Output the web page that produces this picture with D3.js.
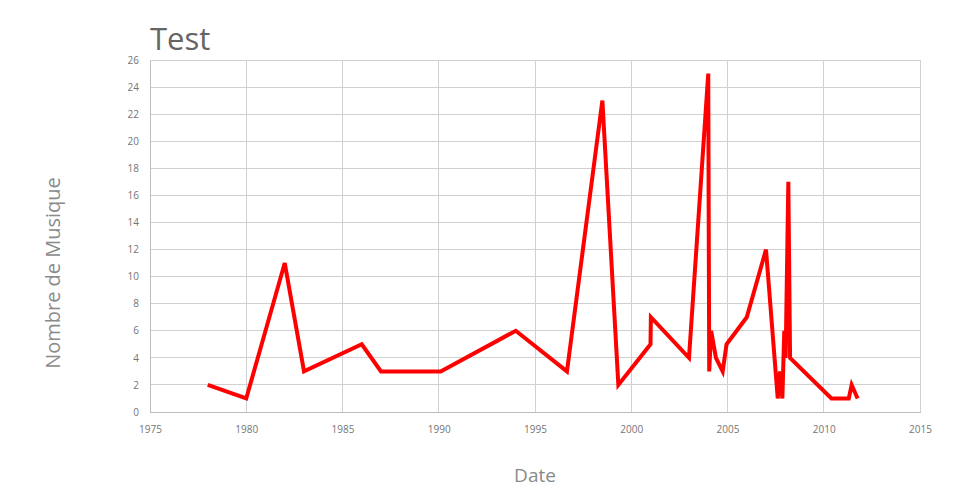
<!DOCTYPE html>
<html>
<head>
<meta charset="utf-8">
<script src="https://cdn.jsdelivr.net/npm/d3@7"></script>
<style>
  body { margin: 0; background: #fff; }
  text { font-family: "Open Sans", sans-serif; }
</style>
</head>
<body>
<svg id="chart" width="960" height="500"></svg>
<script>
// Data (decimal years, number of songs)
const years = [1978, 1980, 1982, 1983, 1986, 1987, 1990.1, 1994, 1996.66, 1998.5, 1999.33, 2001, 2001.02, 2003, 2004.0, 2004.05, 2004.15, 2004.4, 2004.75, 2004.95, 2006, 2007, 2007.61, 2007.73, 2007.85, 2007.95, 2008.02, 2008.16, 2008.25, 2010.4, 2011.3, 2011.45, 2011.76];
const values = [2, 1, 11, 3, 5, 3, 3, 6, 3, 23, 2, 5, 7, 4, 25, 3, 6, 4, 3, 5, 7, 12, 1, 3, 1, 6, 4, 17, 4, 1, 1, 2, 1];
const xTicks = [1975, 1980, 1985, 1990, 1995, 2000, 2005, 2010, 2015];
const yTicks = [0, 2, 4, 6, 8, 10, 12, 14, 16, 18, 20, 22, 24, 26];
const title = "Test";
const xLabel = "Date";
const yLabel = "Nombre de Musique";

const svg = d3.select("#chart");
const margin = {left: 150, right: 40, top: 60, bottom: 88};
const W = 960, H = 500;
const x = d3.scaleLinear().domain([1975, 2015]).range([margin.left, W - margin.right]);
const y = d3.scaleLinear().domain([0, 26]).range([H - margin.bottom, margin.top]);

// grid
svg.append("g").selectAll("line").data(yTicks).join("line")
  .attr("x1", x(1975)).attr("x2", x(2015))
  .attr("y1", d => y(d)).attr("y2", d => y(d))
  .attr("stroke", "#d0d0d0").attr("stroke-width", 1).attr("shape-rendering", "crispEdges");
svg.append("g").selectAll("line").data(xTicks).join("line")
  .attr("x1", d => x(d)).attr("x2", d => x(d))
  .attr("y1", y(0)).attr("y2", y(26))
  .attr("stroke", "#d0d0d0").attr("stroke-width", 1).attr("shape-rendering", "crispEdges");

// axes
const xAxis = d3.axisBottom(x).tickValues(xTicks).tickFormat(d3.format("d")).tickSize(0).tickPadding(14);
const gx = svg.append("g").attr("transform", `translate(0,${y(0)})`).call(xAxis);
gx.select(".domain").attr("stroke", "#bdbdbd").attr("shape-rendering", "crispEdges");
gx.selectAll("text").attr("fill", "#757575").style("font-size", "10px").style("font-family", "'Open Sans', sans-serif");

const yAxis = d3.axisLeft(y).tickValues(yTicks).tickSize(0).tickPadding(11);
const gy = svg.append("g").attr("transform", `translate(${x(1975)},0)`).call(yAxis);
gy.select(".domain").attr("stroke", "#bdbdbd").attr("shape-rendering", "crispEdges");
gy.selectAll("text").attr("fill", "#757575").style("font-size", "10px").style("font-family", "'Open Sans', sans-serif");

// line
const pts = years.map((d, i) => [d, values[i]]);
svg.append("path").datum(pts)
  .attr("fill", "none").attr("stroke", "#ff0000").attr("stroke-width", 4)
  .attr("stroke-linejoin", "miter").attr("stroke-miterlimit", 4)
  .attr("d", d3.line().x(d => x(d[0])).y(d => y(d[1])));

// title
svg.append("text").attr("x", 150).attr("y", 50).text(title)
  .attr("fill", "#656565").style("font-size", "31px");

// axis labels
svg.append("text").attr("x", (x(1975) + x(2015)) / 2).attr("y", 482).attr("text-anchor", "middle")
  .text(xLabel).attr("fill", "#8a8a8a").style("font-size", "19px");
svg.append("text").attr("transform", "translate(60,273) rotate(-90)").attr("text-anchor", "middle")
  .text(yLabel).attr("fill", "#8a8a8a").style("font-size", "20px");
</script>
</body>
</html>
